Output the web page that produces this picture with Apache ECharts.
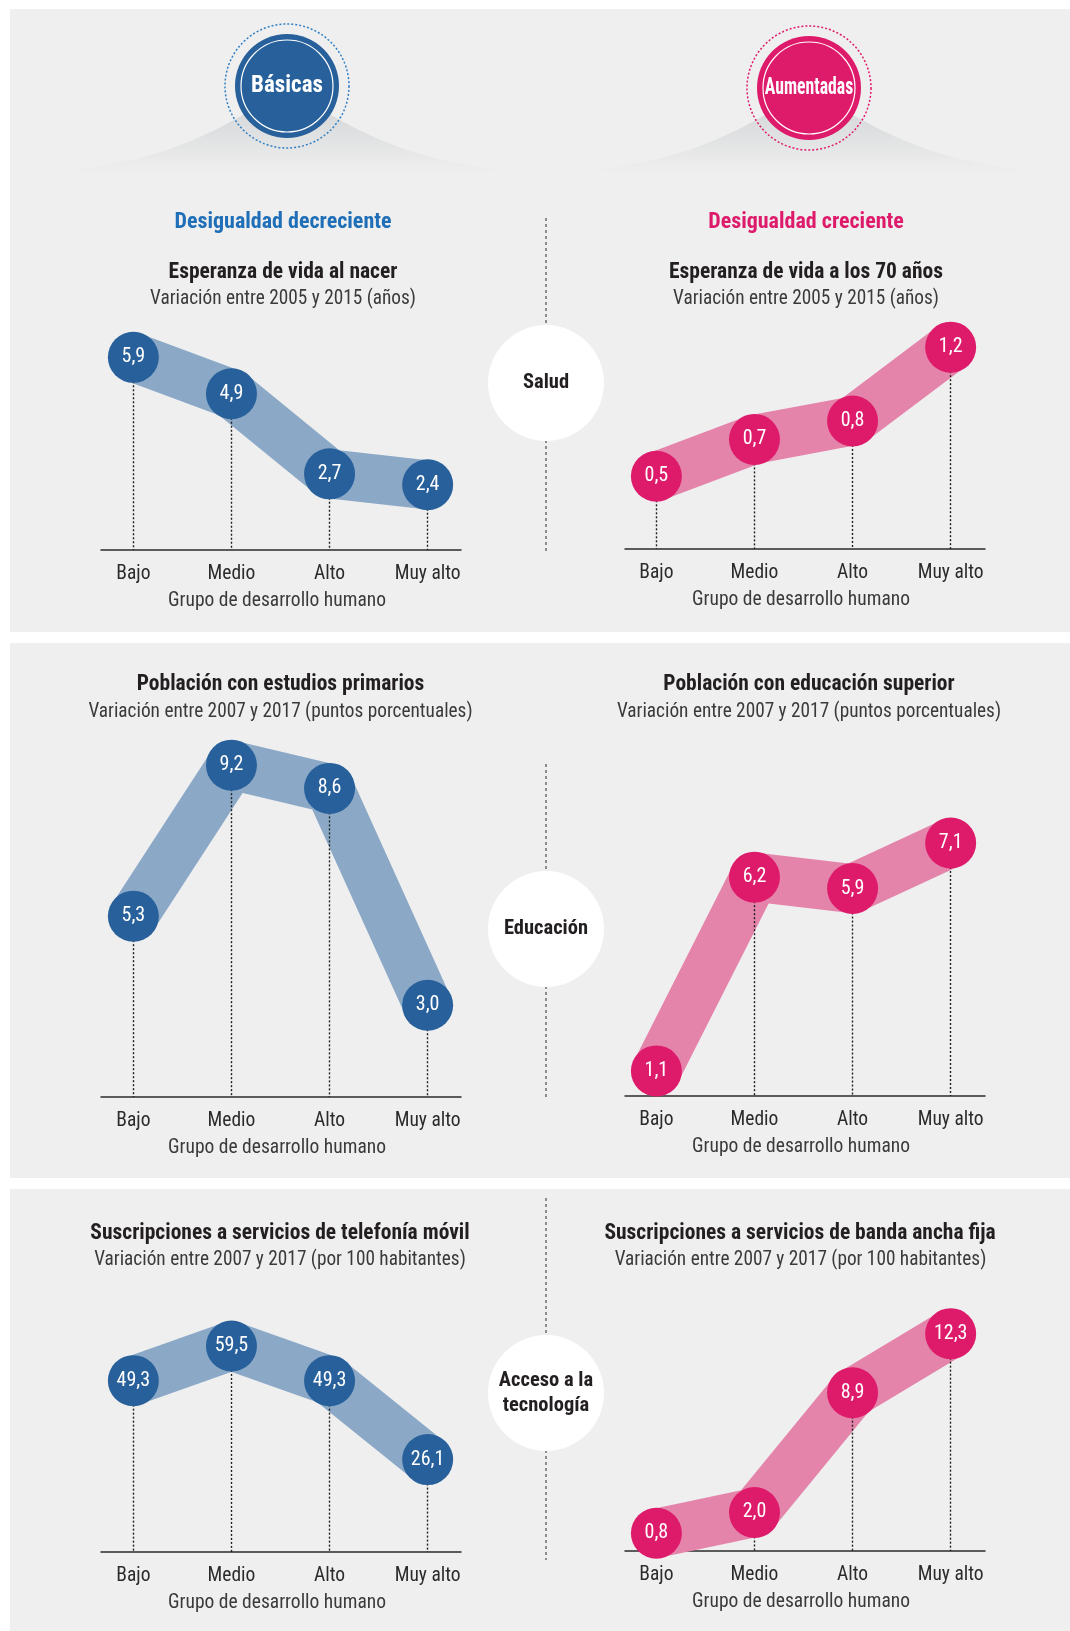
<!DOCTYPE html>
<html>
<head>
<meta charset="utf-8">
<script src="https://cdn.jsdelivr.net/npm/echarts@6/dist/echarts.min.js"></script>
<style>
  html, body { margin: 0; padding: 0; background: #fff; }
  #main { width: 1070px; height: 1631px; }
</style>
</head>
<body>
<div id="main"></div>
<script>
// datos
const categories = ['Bajo', 'Medio', 'Alto', 'Muy alto'];
const vidaNacer = [5.9, 4.9, 2.7, 2.4];
const vida70 = [0.5, 0.7, 0.8, 1.2];
const estudiosPrimarios = [5.3, 9.2, 8.6, 3.0];
const educacionSuperior = [1.1, 6.2, 5.9, 7.1];
const telefoniaMovil = [49.3, 59.5, 49.3, 26.1];
const bandaAncha = [0.8, 2.0, 8.9, 12.3];

const FONT = "'Liberation Sans Narrow', 'Roboto Condensed', 'DejaVu Sans Condensed', Roboto, sans-serif";
const BLUE = { dot: '#27609a', band: '#8ba9c7' };
const PINK = { dot: '#de1a6b', band: '#e584ab' };

// posición de cada gráfico (izquierda / derecha, arriba, alto, rango de y)
const charts = [
  { data: vidaNacer,         col: BLUE, side: 'L', top: 330,  h: 220, ymin: 0.61,  ymax: 6.65 },
  { data: vida70,            col: PINK, side: 'R', top: 330,  h: 219, ymin: 0.106, ymax: 1.293 },
  { data: estudiosPrimarios, col: BLUE, side: 'L', top: 740,  h: 357, ymin: 0.63,  ymax: 9.85 },
  { data: educacionSuperior, col: PINK, side: 'R', top: 740,  h: 356, ymin: 0.44,  ymax: 9.81 },
  { data: telefoniaMovil,    col: BLUE, side: 'L', top: 1300, h: 252, ymin: -1.06, ymax: 73.0 },
  { data: bandaAncha,        col: PINK, side: 'R', top: 1300, h: 251, ymin: -0.22, ymax: 14.24 }
];
const sides = {
  L: { left: 101, width: 360, xmin: -0.33, xmax: 3.34 },
  R: { left: 625, width: 360, xmin: -0.32, xmax: 3.35 }
};

const fmt = v => v.toFixed(1).replace('.', ',');

const grid = [], xAxis = [], yAxis = [], series = [];
charts.forEach(function(c, k) {
  const s = sides[c.side];
  grid.push({ left: s.left, width: s.width, top: c.top, height: c.h });
  xAxis.push({
    gridIndex: k, type: 'value', min: s.xmin, max: s.xmax,
    axisLine: { show: true, onZero: false, lineStyle: { color: '#2b2b2b', width: 1.5 } },
    axisTick: { show: false },
    splitLine: { show: false },
    axisLabel: {
      customValues: [0, 1, 2, 3],
      formatter: v => categories[v] || '',
      color: '#2b2b2b', fontSize: 19.5, margin: 14, fontFamily: FONT
    },
    name: 'Grupo de desarrollo humano',
    nameLocation: 'middle', nameGap: 41.5,
    nameTextStyle: { color: '#3a3a3a', fontSize: 19.5, fontFamily: FONT, padding: [0, 8, 0, 0] }
  });
  yAxis.push({ gridIndex: k, type: 'value', min: c.ymin, max: c.ymax, show: false });

  const pts = c.data.map((v, i) => [i, v]);
  series.push({
    type: 'line', xAxisIndex: k, yAxisIndex: k, data: pts,
    symbol: 'none', silent: true, z: 2,
    lineStyle: { width: 49, color: c.col.band, join: 'bevel', cap: 'butt' },
    markLine: {
      symbol: 'none', silent: true, animation: false, z: 5,
      label: { show: false },
      lineStyle: { type: [2, 2], color: '#1e1e1e', width: 1.4 },
      data: c.data.map((v, i) => [{ coord: [i, v] }, { coord: [i, c.ymin] }])
    }
  });
  series.push({
    type: 'scatter', xAxisIndex: k, yAxisIndex: k, data: pts,
    symbolSize: 51, z: 10, silent: true,
    itemStyle: { color: c.col.dot, opacity: 1 },
    label: {
      show: true, position: 'inside', color: '#fff', fontSize: 20, fontFamily: FONT,
      formatter: p => fmt(p.value[1])
    }
  });
});

// textos y decoración
function txt(x, y, text, opt) {
  opt = opt || {};
  return {
    type: 'text', x: x, y: y, z: 1, scaleX: opt.sx || 1,
    style: {
      text: text, fill: opt.fill || '#231f20',
      font: (opt.bold ? 'bold ' : '') + (opt.size || 19.3) + 'px ' + FONT,
      align: 'center', verticalAlign: 'middle', lineHeight: opt.lh
    }
  };
}
// colina gris bajo las insignias: curva de Bézier muestreada
function hill(cx) {
  const half = [[cx - 275, 173], [cx - 150, 172], [cx - 75, 140], [cx, 86]];
  const pts = [];
  for (let i = 0; i <= 30; i++) {
    const t = i / 30, u = 1 - t;
    const x = u*u*u*half[0][0] + 3*u*u*t*half[1][0] + 3*u*t*t*half[2][0] + t*t*t*half[3][0];
    const y = u*u*u*half[0][1] + 3*u*u*t*half[1][1] + 3*u*t*t*half[2][1] + t*t*t*half[3][1];
    pts.push([x, y]);
  }
  for (let i = pts.length - 2; i >= 0; i--) pts.push([2 * cx - pts[i][0], pts[i][1]]);
  return {
    type: 'polygon', z: -1, shape: { points: pts },
    style: {
      fill: { type: 'linear', x: 0, y: 0, x2: 0, y2: 1,
        colorStops: [{ offset: 0, color: '#cfd0d2' }, { offset: 0.55, color: '#dfe0e1' }, { offset: 1, color: '#efefef' }] }
    }
  };
}
function badge(cx, cy, color, ring, text, sx) {
  return [
    { type: 'circle', z: 1, shape: { cx: cx, cy: cy, r: 62 },
      style: { fill: 'none', stroke: ring, lineWidth: 1.5, lineDash: [2, 2] } },
    { type: 'circle', z: 1, shape: { cx: cx, cy: cy, r: 52 }, style: { fill: color } },
    { type: 'circle', z: 1, shape: { cx: cx, cy: cy, r: 46 },
      style: { fill: 'none', stroke: '#fff', lineWidth: 1.2 } },
    txt(cx, cy, text, { bold: true, fill: '#fff', size: 23, sx: sx })
  ];
}
function divider(y1, y2, cy, text) {
  return [
    { type: 'line', z: 0, shape: { x1: 546, y1: y1, x2: 546, y2: y2 },
      style: { stroke: '#8c8c8c', lineWidth: 2, lineDash: [3, 3] } },
    { type: 'circle', z: 1, shape: { cx: 546, cy: cy, r: 58 }, style: { fill: '#fff' } },
    txt(546, cy, text, { bold: true, size: 20.5, lh: 25 })
  ];
}

const elements = [
  { type: 'rect', z: -2, shape: { x: 10, y: 9, width: 1060, height: 623 }, style: { fill: '#efefef' } },
  { type: 'rect', z: -2, shape: { x: 10, y: 643, width: 1060, height: 535 }, style: { fill: '#efefef' } },
  { type: 'rect', z: -2, shape: { x: 10, y: 1189, width: 1060, height: 442 }, style: { fill: '#efefef' } },
  hill(287), hill(809)
].concat(
  badge(287, 86, '#27609a', '#2f80c5', 'Básicas', 1),
  badge(809, 88, '#de1a6b', '#de1a6b', 'Aumentadas', 0.77),
  divider(218, 551, 383, 'Salud'),
  divider(764, 1097, 929, 'Educación'),
  divider(1198, 1560, 1393, 'Acceso a la\ntecnología'),
  [
    txt(283, 222, 'Desigualdad decreciente', { bold: true, size: 22, fill: '#1f6fb8' }),
    txt(806, 222, 'Desigualdad creciente', { bold: true, size: 22, fill: '#de1a6b' }),
    txt(283, 272.5, 'Esperanza de vida al nacer', { bold: true, size: 21.5 }),
    txt(283, 299, 'Variación entre 2005 y 2015 (años)', { fill: '#3a3a3a' }),
    txt(806, 272.5, 'Esperanza de vida a los 70 años', { bold: true, size: 21.5 }),
    txt(806, 299, 'Variación entre 2005 y 2015 (años)', { fill: '#3a3a3a' }),
    txt(280.5, 684.5, 'Población con estudios primarios', { bold: true, size: 21.5 }),
    txt(280.5, 712, 'Variación entre 2007 y 2017 (puntos porcentuales)', { fill: '#3a3a3a' }),
    txt(809, 684.5, 'Población con educación superior', { bold: true, size: 21.5 }),
    txt(809, 712, 'Variación entre 2007 y 2017 (puntos porcentuales)', { fill: '#3a3a3a' }),
    txt(280, 1233.5, 'Suscripciones a servicios de telefonía móvil', { bold: true, size: 21.5 }),
    txt(280, 1260, 'Variación entre 2007 y 2017 (por 100 habitantes)', { fill: '#3a3a3a' }),
    txt(800, 1233.5, 'Suscripciones a servicios de banda ancha fija', { bold: true, size: 21.5 }),
    txt(800.5, 1260, 'Variación entre 2007 y 2017 (por 100 habitantes)', { fill: '#3a3a3a' })
  ]
);

const chart = echarts.init(document.getElementById('main'), null, { renderer: 'canvas' });
chart.setOption({
  animation: false,
  backgroundColor: '#ffffff',
  textStyle: { fontFamily: FONT },
  grid: grid,
  xAxis: xAxis,
  yAxis: yAxis,
  series: series,
  graphic: { elements: elements }
});
</script>
</body>
</html>
